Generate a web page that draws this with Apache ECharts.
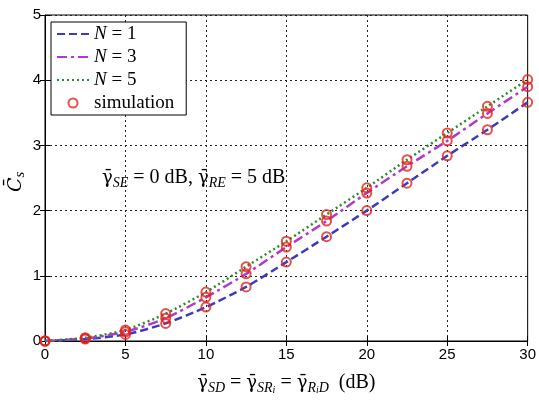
<!DOCTYPE html>
<html><head><meta charset="utf-8">
<script src="https://cdn.jsdelivr.net/npm/echarts@6/dist/echarts.min.js"></script>
<style>html,body{margin:0;padding:0;background:#fff}#c{width:539px;height:400px}</style>
</head><body><div id="c"></div><script>
// Average secrecy capacity versus main-link SNR (dB), three relay counts
const snrDb = [0, 2.5, 5, 7.5, 10, 12.5, 15, 17.5, 20, 22.5, 25, 27.5, 30];
const capN1 = [0, 0.03, 0.10, 0.27, 0.52, 0.83, 1.21, 1.60, 2.00, 2.42, 2.84, 3.24, 3.66];
const capN3 = [0, 0.04, 0.14, 0.35, 0.67, 1.03, 1.44, 1.84, 2.27, 2.68, 3.07, 3.49, 3.90];
const capN5 = [0, 0.05, 0.17, 0.42, 0.75, 1.14, 1.53, 1.94, 2.35, 2.78, 3.19, 3.60, 4.01];
const xTickStep = 5;
const yTickStep = 1;
const legendLabels = { N1: '{i|N} = 1', N3: '{i|N} = 3', N5: '{i|N} = 5', simulation: 'simulation' };

const pairs = (xs, ys) => xs.map((x, i) => [x, ys[i]]);
const SERIF = 'Liberation Serif';
const MATHSYM = 'DejaVu Serif';
const bar = '\u03b3\u0304';

const chart = echarts.init(document.getElementById('c'), null, { renderer: 'canvas' });

const richMath = {
  g: { fontFamily: MATHSYM, fontSize: 18, color: '#000', lineHeight: 24 },
  t: { fontFamily: SERIF, fontSize: 20, color: '#000', lineHeight: 24 },
  s: { fontFamily: SERIF, fontStyle: 'italic', fontSize: 14, color: '#000', lineHeight: 13, verticalAlign: 'bottom' },
  ss: { fontFamily: SERIF, fontStyle: 'italic', fontSize: 10, color: '#000', lineHeight: 8, verticalAlign: 'bottom' }
};

const lineSeries = (name, data, color, type) => ({
  name, type: 'line', data: pairs(snrDb, data), symbol: 'none', smooth: 0.25,
  lineStyle: { color, width: 2.5, type }, itemStyle: { color }, z: 2
});
const simSeries = (data) => ({
  name: 'simulation', type: 'scatter', data: pairs(snrDb, data), symbol: 'circle', symbolSize: 9,
  itemStyle: { color: 'rgba(255,255,255,0)', borderColor: '#e4231b', borderWidth: 2 }, z: 3
});

const gridLine = { show: true, lineStyle: { color: '#222', width: 1, type: [2, 3] } };
const tickIn = { show: true, inside: true, length: 5, lineStyle: { color: '#000' } };
const lineOnly = { color: 'rgba(0,0,0,0)', borderWidth: 0, opacity: 0 };

chart.setOption({
  animation: false,
  backgroundColor: '#fff',
  grid: { left: 45, top: 15, width: 485, height: 329, show: true, borderColor: '#000', borderWidth: 1, backgroundColor: 'transparent' },
  xAxis: [{
    type: 'value', min: 0, max: 30, interval: xTickStep,
    axisLine: { show: true, lineStyle: { color: '#000' } }, axisTick: tickIn,
    axisLabel: { color: '#000', fontFamily: 'Liberation Sans', fontSize: 15, margin: 6 },
    splitLine: gridLine,
    name: `{g|${bar}}{s|SD}{t| = }{g|${bar}}{s|SR}{ss|i}{t| = }{g|${bar}}{s|R}{ss|i}{s|D}{t|  (dB)}`,
    nameLocation: 'middle', nameGap: 30,
    nameTextStyle: { rich: richMath }
  }, {
    type: 'value', min: 0, max: 30, interval: xTickStep, position: 'top',
    axisLine: { show: false }, axisTick: tickIn, axisLabel: { show: false }, splitLine: { show: false }
  }],
  yAxis: [{
    type: 'value', min: 0, max: 5, interval: yTickStep,
    axisLine: { show: true, lineStyle: { color: '#000' } }, axisTick: tickIn,
    axisLabel: { color: '#000', fontFamily: 'Liberation Sans', fontSize: 15, margin: 4 },
    splitLine: gridLine
  }, {
    type: 'value', min: 0, max: 5, interval: yTickStep, position: 'right',
    axisLine: { show: false }, axisTick: tickIn, axisLabel: { show: false }, splitLine: { show: false }
  }],
  legend: {
    orient: 'vertical', left: 51, top: 22,
    data: [
      { name: 'N1', itemStyle: lineOnly },
      { name: 'N3', itemStyle: lineOnly },
      { name: 'N5', itemStyle: lineOnly },
      { name: 'simulation' }
    ],
    backgroundColor: '#fff', borderColor: '#000', borderWidth: 1, borderRadius: 0,
    padding: [2, 12, 2, 5], itemGap: 3, itemWidth: 32, itemHeight: 9,
    formatter: (name) => legendLabels[name],
    textStyle: {
      fontFamily: SERIF, fontSize: 19, color: '#000', lineHeight: 20,
      rich: { i: { fontFamily: SERIF, fontStyle: 'italic', fontSize: 19, color: '#000', lineHeight: 20 } }
    }
  },
  graphic: [{
    type: 'text', left: 102, top: 168, z: 10,
    style: {
      text: `{g|${bar}}{s|SE}{t| = 0 dB, }{g|${bar}}{s|RE}{t| = 5 dB}`,
      rich: richMath
    }
  }, {
    type: 'text', x: 4, y: 192, rotation: Math.PI / 2, z: 10,
    style: {
      text: '{c|C\u0304}{s|s}',
      rich: {
        c: { fontFamily: MATHSYM, fontStyle: 'italic', fontSize: 19, color: '#000', lineHeight: 24 },
        s: { fontFamily: SERIF, fontStyle: 'italic', fontSize: 15, color: '#000', lineHeight: 14, verticalAlign: 'bottom' }
      }
    }
  }],
  series: [
    lineSeries('N1', capN1, '#3b3bbd', [8, 4]),
    lineSeries('N3', capN3, '#b437cc', [10, 4, 3, 4]),
    lineSeries('N5', capN5, '#2f8a2f', [2, 3]),
    simSeries(capN1), simSeries(capN3), simSeries(capN5)
  ]
});
</script></body></html>
